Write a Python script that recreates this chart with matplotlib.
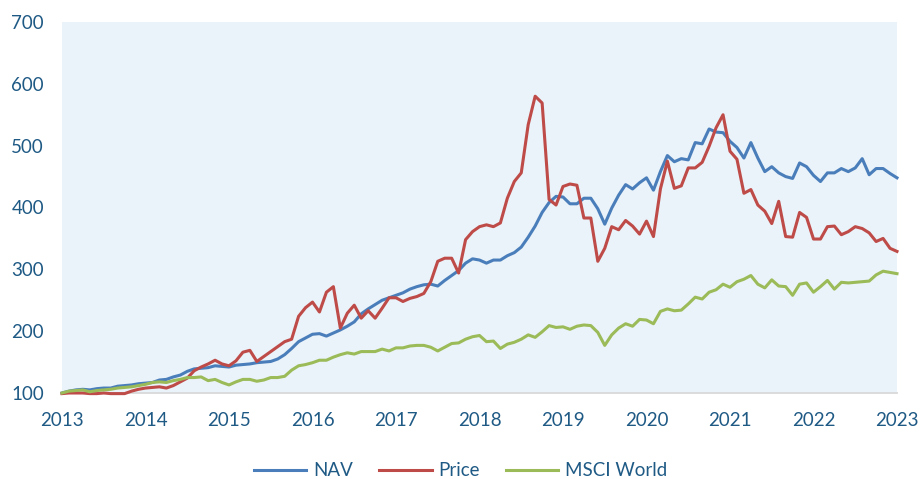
import numpy as np
import matplotlib
matplotlib.use("Agg")
import matplotlib.pyplot as plt

plt.rcParams['font.family'] = ['Lato', 'DejaVu Sans']

# Monthly index values, Jan 2013 .. Jan 2023 (rebased to 100)
nav = [
    100, 103, 105, 106, 105, 107, 108, 108, 111, 112, 113, 115,   # 2013
    116, 117, 121, 122, 126, 129, 135, 139, 140, 141, 144, 143,   # 2014
    142, 145, 146, 147, 149, 150, 151, 155, 162, 172, 183, 189,   # 2015
    195, 196, 192, 197, 202, 208, 215, 228, 236, 243, 250, 254,   # 2016
    258, 262, 268, 272, 275, 276, 273, 282, 290, 298, 310, 317,   # 2017
    315, 310, 315, 315, 322, 327, 336, 352, 370, 392, 408, 418,   # 2018
    417, 406, 406, 415, 415, 398, 373, 399, 420, 437, 430, 440,   # 2019
    448, 428, 458, 484, 474, 479, 477, 505, 503, 527, 522, 521,   # 2020
    507, 497, 480, 505, 480, 458, 466, 456, 450, 447, 472, 466,   # 2021
    452, 442, 456, 456, 463, 458, 464, 479, 453, 463, 463, 455,   # 2022
    448,                                                           # 2023
]
price = [
    99, 100, 100, 100, 99, 99, 100, 99, 99, 99, 103, 106,
    108, 109, 110, 108, 112, 118, 124, 136, 142, 147, 153, 147,
    144, 152, 166, 169, 151, 159, 167, 175, 183, 187, 224, 238,
    247, 231, 263, 272, 205, 229, 242, 221, 233, 221, 237, 254,
    254, 248, 253, 256, 261, 280, 313, 318, 318, 294, 348, 361,
    369, 372, 369, 375, 415, 442, 456, 534, 580, 569, 413, 404,
    434, 438, 436, 383, 383, 313, 334, 369, 364, 379, 370, 357,
    378, 353, 430, 475, 431, 435, 464, 464, 473, 499, 529, 550,
    491, 478, 423, 429, 404, 394, 374, 410, 353, 352, 392, 384,
    349, 349, 369, 370, 356, 361, 369, 366, 359, 345, 350, 334,
    329,
]
msci = [
    100, 103, 104, 105, 102, 104, 105, 106, 108, 109, 110, 112,
    114, 117, 118, 117, 120, 122, 125, 125, 126, 120, 122, 117,
    113, 118, 122, 122, 119, 121, 125, 125, 127, 137, 144, 146,
    149, 153, 153, 158, 162, 165, 163, 167, 167, 167, 171, 168,
    173, 173, 176, 177, 177, 174, 168, 174, 180, 181, 187, 191,
    193, 183, 184, 172, 179, 182, 187, 194, 190, 199, 209, 206,
    207, 203, 208, 210, 209, 198, 177, 194, 205, 212, 208, 219,
    218, 212, 232, 236, 233, 234, 244, 255, 252, 263, 267, 276,
    271, 280, 284, 290, 276, 270, 283, 273, 272, 258, 276, 278,
    263, 272, 282, 268, 279, 278, 279, 280, 281, 291, 297, 295,
    293,
]
series_names = ["NAV", "Price", "MSCI World"]
year_ticks = list(range(2013, 2024))
y_ticks = list(range(100, 701, 100))

x = 2013 + np.arange(len(nav)) / 12.0

txt = '#1F5A85'
fig = plt.figure(figsize=(9.21, 4.79), dpi=100)
ax = fig.add_axes([62/921, 1 - 393/479, (897 - 62)/921, (393 - 22)/479])
ax.set_facecolor('#EAF3F9')

colors = ['#4A7EBB', '#BE4B48', '#9BBB59']
for vals, name, c in zip([nav, price, msci], series_names, colors):
    ax.plot(x, vals, color=c, lw=2.2, label=name, solid_joinstyle='round',
            clip_on=False, zorder=3)

ax.set_xlim(2013, 2023)
ax.set_ylim(100, 700)
ax.set_xticks(year_ticks)
ax.set_xticklabels([str(y) for y in year_ticks])
ax.set_yticks(y_ticks)
for s in ['top', 'right', 'left']:
    ax.spines[s].set_visible(False)
ax.spines['bottom'].set_color('#D9D9D9')
ax.spines['bottom'].set_linewidth(1.3)
ax.spines['bottom'].set_zorder(1)
ax.tick_params(axis='both', length=0, labelsize=13.5, labelcolor=txt)
ax.tick_params(axis='y', pad=13)
ax.tick_params(axis='x', pad=14)

fig.legend(loc='center', bbox_to_anchor=(0.5, 1 - 471/479), ncol=3, frameon=False,
           fontsize=13.5, labelcolor=txt, handlelength=2.8, handletextpad=0.35,
           columnspacing=1.4)

fig.savefig('out.png', dpi=100)
